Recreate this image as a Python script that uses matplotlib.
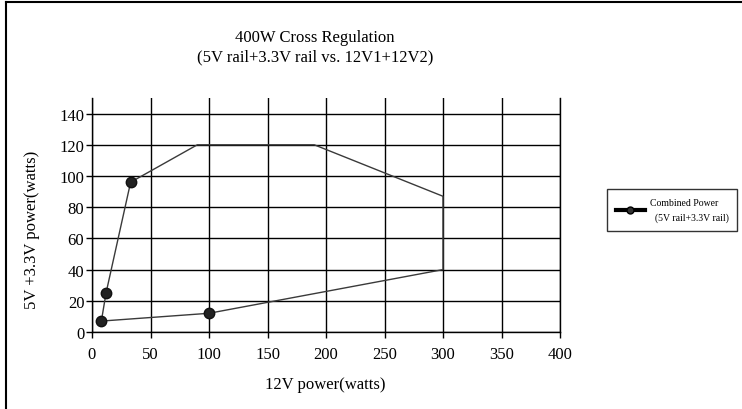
import matplotlib
matplotlib.use("Agg")
import matplotlib.pyplot as plt
from matplotlib.lines import Line2D

# ---------------------------
# Data
# ---------------------------
power_12v = [8, 12, 33, 90, 190, 300, 300, 100, 8]
power_5v_33v = [7, 25, 96, 120, 120, 87, 40, 12, 7]
marked_points = [0, 1, 2, 7]

x_ticks = [0, 50, 100, 150, 200, 250, 300, 350, 400]
y_ticks = [0, 20, 40, 60, 80, 100, 120, 140]

plt.rcParams['font.family'] = ['Liberation Serif', 'DejaVu Serif']

W, H = 742, 410
fig = plt.figure(figsize=(W / 100, H / 100), dpi=100)

# axes box in pixel coords: x 92..560, y 99..333 (from top)
ax = fig.add_axes([92 / W, 1 - 333 / H, (560 - 92) / W, (333 - 99) / H])

ax.plot(power_12v, power_5v_33v, color='#3a3a3a', linewidth=1.0,
        marker='o', markevery=marked_points, markersize=7.5,
        markerfacecolor='#222222', markeredgecolor='#111111',
        clip_on=False, zorder=3)

ax.set_xlim(0, 400)
ax.set_ylim(0, 150)
ax.set_xticks(x_ticks)
ax.set_yticks(y_ticks)
ax.grid(True, color='black', linewidth=1.0)
ax.set_axisbelow(True)
ax.spines['top'].set_visible(False)
for side in ['left', 'bottom', 'right']:
    ax.spines[side].set_linewidth(1.0)
ax.tick_params(direction='out', length=4, width=1.0, labelsize=12)
ax.tick_params(axis='x', pad=6)
ax.tick_params(axis='y', pad=1.5)

# Titles and labels
fig.text(315 / W, 1 - 38 / H, '400W Cross Regulation', ha='center', va='center', fontsize=12)
fig.text(315 / W, 1 - 57 / H, '(5V rail+3.3V rail vs. 12V1+12V2)', ha='center', va='center', fontsize=12)
fig.text(325 / W, 1 - 385 / H, '12V power(watts)', ha='center', va='center', fontsize=12)
fig.text(32 / W, 1 - 230 / H, '5V +3.3V power(watts)', ha='center', va='center',
         rotation=90, fontsize=12)

# Legend
handle = Line2D([0], [0], color='black', linewidth=3, marker='o', markersize=5,
                markerfacecolor='#333333', markeredgecolor='black')
leg = fig.legend([handle], ['Combined Power\n  (5V rail+3.3V rail)'],
                 loc='upper left', bbox_to_anchor=(607 / W, 1 - 190 / H),
                 fontsize=7, frameon=True, fancybox=False, handlelength=3,
                 borderpad=0.9, handletextpad=0.5, borderaxespad=0)
leg.get_texts()[0].set_linespacing(1.8)
leg.get_frame().set_edgecolor('black')
leg.get_frame().set_linewidth(1.0)

# Outer border (left and top only visible)
fig.add_artist(Line2D([6 / W, 6 / W], [0, 1 - 3 / H], color='black', linewidth=1.5,
                      transform=fig.transFigure))
fig.add_artist(Line2D([6 / W, 1], [1 - 3 / H, 1 - 3 / H], color='black', linewidth=1.5,
                      transform=fig.transFigure))

fig.savefig('out.png', dpi=100)
